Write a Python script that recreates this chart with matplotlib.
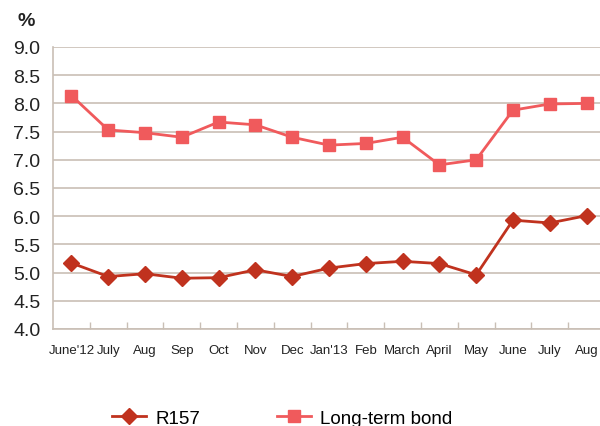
import matplotlib
import matplotlib.pyplot as plt
import numpy as np

matplotlib.use('Agg')
plt.rcParams['font.family'] = ['Liberation Sans', 'DejaVu Sans']

months = ["June'12", "July", "Aug", "Sep", "Oct", "Nov", "Dec", "Jan'13",
          "Feb", "March", "April", "May", "June", "July", "Aug"]
r157 = [5.17, 4.93, 4.98, 4.90, 4.91, 5.05, 4.93, 5.08,
        5.16, 5.20, 5.16, 4.96, 5.93, 5.88, 6.01]
long_bond = [8.14, 7.53, 7.48, 7.40, 7.67, 7.62, 7.40, 7.26,
             7.29, 7.40, 6.91, 7.00, 7.88, 7.99, 8.00]

grid_col = '#c9bfb5'

fig = plt.figure(figsize=(6, 4.27), dpi=100)
ax = fig.add_axes([53 / 600, 97 / 427, 552 / 600, 282 / 427])

x = np.arange(len(months))
ax.plot(x, r157, color='#c0321e', marker='D', markersize=8, linewidth=2, label='R157')
ax.plot(x, long_bond, color='#f05a5c', marker='s', markersize=8, linewidth=2, label='Long-term bond')

ax.set_xlim(-0.5, len(months) - 0.5)
ax.set_ylim(4.0, 9.0)
yt = np.arange(4.0, 9.01, 0.5)
ax.set_yticks(yt)
ax.set_yticklabels([f'{v:.1f}' for v in yt], fontsize=14, color='#222222')
ax.set_xticks(x)
ax.set_xticklabels(months, fontsize=9.5, color='#222222')
ax.set_xticks(np.arange(0.5, len(months) - 0.5, 1), minor=True)
ax.tick_params(axis='x', which='major', length=0, pad=11)
ax.tick_params(axis='x', which='minor', direction='in', length=5, width=1, color=grid_col)
ax.tick_params(axis='y', length=0, pad=9)

ax.grid(axis='y', color=grid_col, linewidth=1.2)
ax.set_axisbelow(True)
for s in ['top', 'right']:
    ax.spines[s].set_visible(False)
for s in ['left', 'bottom']:
    ax.spines[s].set_color(grid_col)
    ax.spines[s].set_linewidth(1.2)

fig.text(17 / 600, 1 - 22 / 427, '%', fontsize=14, fontweight='bold', va='center', color='#222222')

fig.legend(loc='center left', bbox_to_anchor=(112 / 600, 1 - 419 / 427), ncol=2, frameon=False,
           fontsize=13.5, handlelength=1.8, columnspacing=4.1, handletextpad=0.5,
           borderaxespad=0, borderpad=0)

fig.savefig('out.png', dpi=100)
